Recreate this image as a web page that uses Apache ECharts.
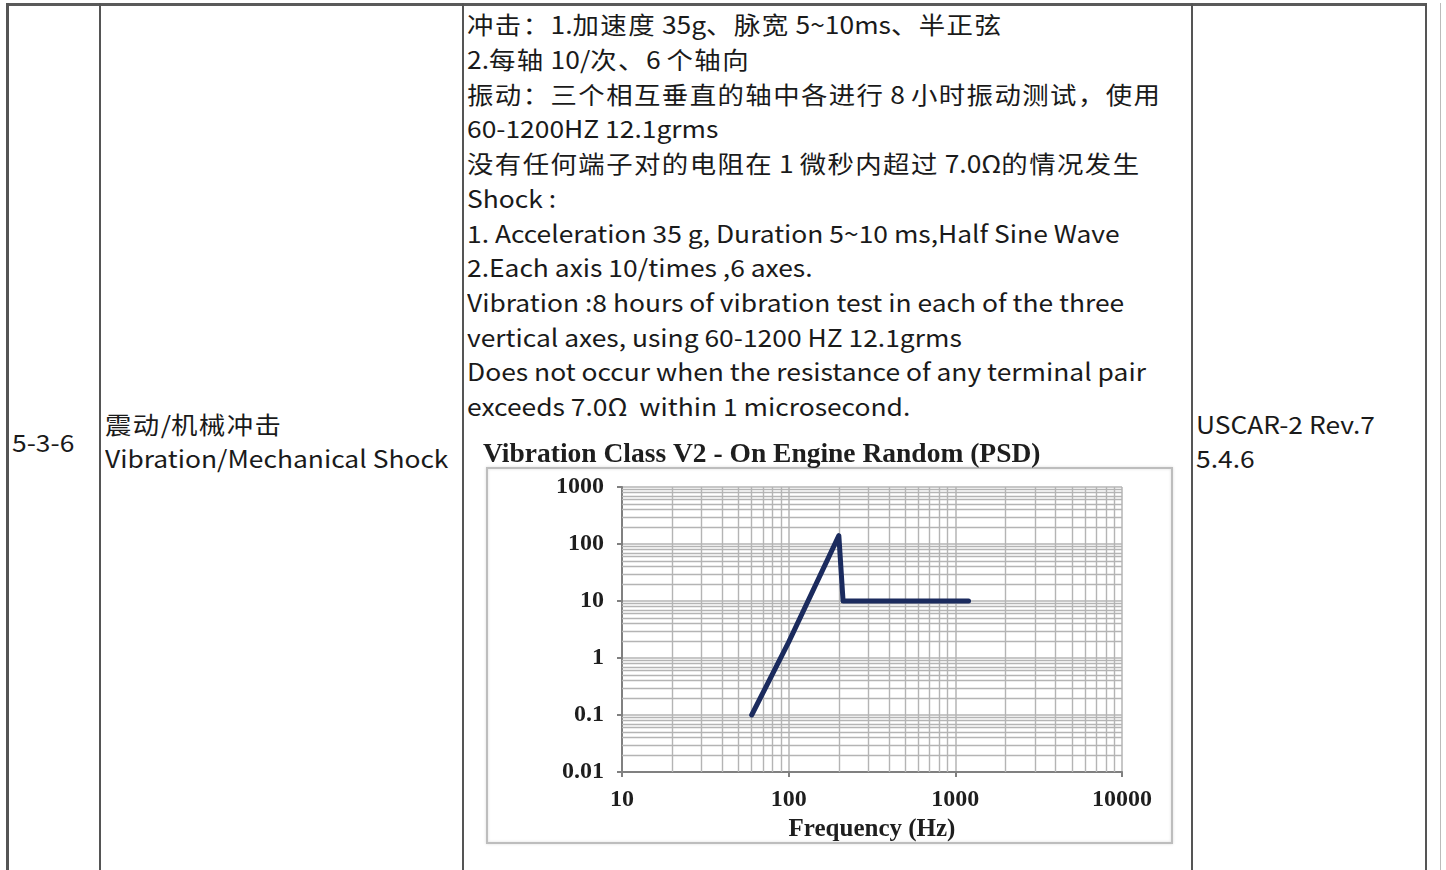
<!DOCTYPE html>
<html><head><meta charset="utf-8">
<script src="https://cdn.jsdelivr.net/npm/echarts@6/dist/echarts.min.js"></script>
<style>
html,body{margin:0;padding:0;background:#fff;width:1446px;height:870px;overflow:hidden;position:relative;}
.ln{position:absolute;background:#555;}
.tx{position:absolute;font-family:"Noto Sans CJK SC","Noto Sans",sans-serif;font-size:24px;color:#1a1a1a;line-height:34.7px;white-space:nowrap;transform:scaleX(1.1);transform-origin:0 0;}
.tx .cjk{letter-spacing:1.3px;}
#chart{position:absolute;left:470px;top:430px;width:720px;height:440px;}
</style></head>
<body>
<div class="ln" style="left:6px;top:3px;width:1421px;height:3px;background:#5a5a5a"></div>
<div class="ln" style="left:6px;top:3px;width:3px;height:867px;"></div>
<div class="ln" style="left:99px;top:3px;width:2px;height:867px;"></div>
<div class="ln" style="left:462px;top:3px;width:2px;height:867px;"></div>
<div class="ln" style="left:1191px;top:3px;width:2px;height:867px;"></div>
<div class="ln" style="left:1425px;top:3px;width:2px;height:867px;"></div>
<div class="ln" style="left:1440px;top:3px;width:1px;height:867px;background:#bbb"></div>

<div class="tx" id="c1" style="left:12px;top:424.6px;"></div>
<div class="tx" id="c2" style="left:105px;top:406.6px;"></div>
<div class="tx" id="c3" style="left:467px;top:7.3px;"></div>
<div class="tx" id="c4" style="left:1196px;top:406.6px;"></div>
<div id="chart"></div>
<script>
// ---- table text ----
const cellNo = ["5-3-6"];
const cellItem = ["震动/机械冲击", "Vibration/Mechanical Shock"];
const cellDesc = [
  "冲击：1.加速度 35g、脉宽 5~10ms、半正弦",
  "2.每轴 10/次、6 个轴向",
  "振动：三个相互垂直的轴中各进行 8 小时振动测试，使用",
  "60-1200HZ 12.1grms",
  "没有任何端子对的电阻在 1 微秒内超过 7.0Ω的情况发生",
  "Shock :",
  "1. Acceleration 35 g, Duration 5~10 ms,Half Sine Wave",
  "2.Each axis 10/times ,6 axes.",
  "Vibration :8 hours of vibration test in each of the three",
  "vertical axes, using 60-1200 HZ 12.1grms",
  "Does not occur when the resistance of any terminal pair",
  "exceeds 7.0Ω  within 1 microsecond."
];
const cellStd = ["USCAR-2 Rev.7", "5.4.6"];
function fill(id, arr){
  const el = document.getElementById(id);
  arr.forEach(t => {
    const d = document.createElement('div');
    t.split(/([\u3000-\u9fff\uff00-\uffef]+)/).forEach(part => {
      if (!part) return;
      const s = document.createElement('span');
      if (/[\u3000-\u9fff\uff00-\uffef]/.test(part)) s.className = 'cjk';
      s.textContent = part;
      d.appendChild(s);
    });
    d.style.whiteSpace = 'pre';
    el.appendChild(d);
  });
}
fill('c1', cellNo); fill('c2', cellItem); fill('c3', cellDesc); fill('c4', cellStd);

// ---- chart data ----
const chartTitle = "Vibration Class V2 - On Engine Random (PSD)";
const xName = "Frequency (Hz)";
const freq = [60, 100, 200, 212, 1200];
const psd  = [0.1, 1.9, 140, 10, 10];
const xTicks = [10, 100, 1000, 10000];
const yTicks = [0.01, 0.1, 1, 10, 100, 1000];

const xMinor = [], yMinor = [];
for (let i = 0; i < xTicks.length - 1; i++) for (let m = 2; m <= 9; m++) xMinor.push(xTicks[i] * m);
for (let i = 0; i < yTicks.length - 1; i++) for (let m = 2; m <= 9; m++) yMinor.push(+(yTicks[i] * m).toPrecision(3));

const serif = '"Liberation Serif","DejaVu Serif",serif';
const chart = echarts.init(document.getElementById('chart'));
const gridCol = '#b4b4b4';
const fmt = v => String(+(+v).toPrecision(3));
chart.setOption({
  animation: false,
  title: { text: chartTitle, left: 8, top: 6, textStyle: { fontFamily: serif, fontWeight: 'bold', fontSize: 27.5, color: '#1e1e1e' } },
  graphic: [{ type: 'rect', shape: { x: 17, y: 38, width: 685, height: 375 }, style: { fill: 'none', stroke: '#bdbdbd', lineWidth: 2, shadowBlur: 3, shadowColor: 'rgba(0,0,0,0.15)' }, z: -1 }],
  grid: { left: 152, right: 68, top: 57, bottom: 98 },
  xAxis: {
    type: 'log', logBase: 10, min: 10, max: 10000,
    name: xName, nameLocation: 'middle', nameGap: 40,
    nameTextStyle: { fontFamily: serif, fontWeight: 'bold', fontSize: 25, color: '#1e1e1e' },
    axisLine: { lineStyle: { color: '#808080', width: 2 } },
    axisTick: { show: true, length: 5, lineStyle: { color: '#808080', width: 2 } },
    axisLabel: { fontFamily: serif, fontWeight: 'bold', fontSize: 24, color: '#1e1e1e', margin: 16, formatter: fmt },
    splitLine: { show: true, lineStyle: { color: gridCol, width: 1.5 } }
  },
  yAxis: {
    type: 'log', logBase: 10, min: 0.01, max: 1000,
    axisLine: { show: true, lineStyle: { color: '#808080', width: 2 } },
    axisTick: { show: true, length: 5, lineStyle: { color: '#808080', width: 2 } },
    axisLabel: { fontFamily: serif, fontWeight: 'bold', fontSize: 24, color: '#1e1e1e', margin: 18, formatter: fmt },
    splitLine: { show: true, lineStyle: { color: gridCol, width: 1.5 } }
  },
  series: [
    { type: 'line', data: [], silent: true,
      markLine: { silent: true, symbol: 'none', label: { show: false },
        lineStyle: { color: gridCol, width: 1.4, type: 'solid' },
        data: xMinor.map(v => ({ xAxis: v })).concat(yMinor.map(v => ({ yAxis: v }))) } },
    { type: 'line', data: freq.map((f, i) => [f, psd[i]]), showSymbol: false, symbol: 'none',
      lineStyle: { color: '#1b2b5e', width: 5, cap: 'round', join: 'round' }, z: 5 }
  ]
});
</script>
</body></html>
